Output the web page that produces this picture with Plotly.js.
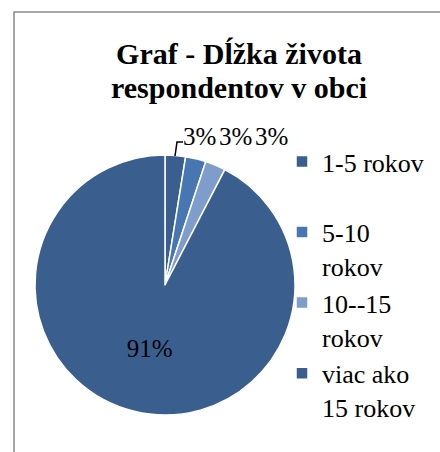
<!DOCTYPE html>
<html>
<head>
<meta charset="utf-8">
<script src="https://cdn.plot.ly/plotly-3.0.1.min.js"></script>
<style>html,body{margin:0;padding:0;background:#fff;}#chart{width:440px;height:452px;}</style>
</head>
<body>
<div id="chart"></div>
<script>
const categories = ["1-5 rokov<br>&nbsp;", "5-10<br>rokov", "10--15<br>rokov", "viac ako<br>15 rokov"];
const values = [2.5, 2.5, 2.5, 91];
const sliceColors = ["#3A5F8F", "#4776B3", "#7F9DCA", "#3A5F8F"];
const titleLines = ["Graf - Dĺžka života", "respondentov v obci"];

const serif = "Liberation Serif";
const W = 440, H = 452;
const px = (x) => x / W;
const py = (y) => 1 - y / H;
const fmtPct = (v) => Math.round(v) + "%";

// big slice label drawn by the pie itself; small slice labels placed above the pie
const textPositions = values.map((v, i) => (i === values.length - 1 ? "inside" : "none"));
const smallLabelX = [199, 235, 271];

const trace = {
  type: "pie",
  labels: categories,
  values: values,
  sort: false,
  direction: "clockwise",
  rotation: 0,
  marker: { colors: sliceColors, line: { color: "#ffffff", width: 1.5 } },
  texttemplate: "%{value:.0f}%",
  textposition: textPositions,
  insidetextorientation: "horizontal",
  textfont: { family: serif, size: 25, color: "#000000" },
  insidetextfont: { family: serif, size: 25, color: "#000000" },
  domain: { x: [px(35), px(295)], y: [py(415), py(155)] },
  hoverinfo: "none"
};

const annotations = [{
  text: "<b>" + titleLines[1] + "</b>",
  xref: "paper", yref: "paper",
  x: px(239), y: py(87), xanchor: "center", yanchor: "middle",
  showarrow: false,
  font: { family: serif, size: 30, color: "#000000" }
}];
values.slice(0, 3).forEach((v, i) => {
  annotations.push({
    text: fmtPct(v),
    xref: "paper", yref: "paper",
    x: px(smallLabelX[i]), y: py(136), xanchor: "center", yanchor: "middle",
    showarrow: false,
    font: { family: serif, size: 25, color: "#000000" }
  });
});

const layout = {
  width: W,
  height: H,
  margin: { l: 0, r: 0, t: 0, b: 0 },
  paper_bgcolor: "#ffffff",
  plot_bgcolor: "#ffffff",
  font: { family: serif },
  title: {
    text: "<b>" + titleLines[0] + "</b>",
    font: { family: serif, size: 30, color: "#000000" },
    x: px(239), xanchor: "center", xref: "paper",
    y: py(53), yanchor: "middle", yref: "container"
  },
  annotations: annotations,
  legend: {
    x: px(282), xanchor: "left",
    y: py(138), yanchor: "top",
    valign: "top",
    font: { family: serif, size: 26, color: "#000000" },
    bgcolor: "rgba(0,0,0,0)",
    traceorder: "normal"
  },
  shapes: [{
    type: "rect", xref: "paper", yref: "paper",
    x0: px(14), x1: 1.1, y0: -0.1, y1: py(12),
    line: { color: "#8a8a8a", width: 1.5 },
    fillcolor: "rgba(0,0,0,0)",
    layer: "below"
  }, {
    type: "path", xref: "paper", yref: "paper",
    path: "M " + px(175) + "," + py(156) + " L " + px(177) + "," + py(142) + " L " + px(183) + "," + py(142),
    line: { color: "#000000", width: 1.5 }
  }],
  showlegend: true
};

Plotly.newPlot("chart", [trace], layout, { displayModeBar: false, staticPlot: true });
</script>
</body>
</html>
